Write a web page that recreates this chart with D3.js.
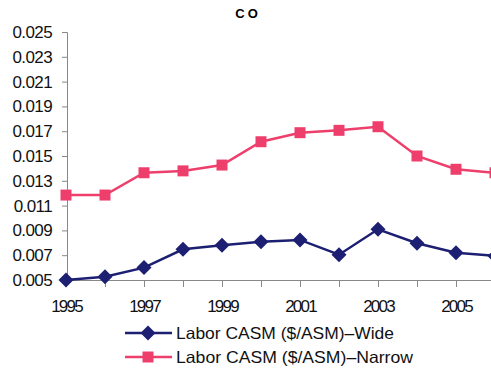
<!DOCTYPE html>
<html><head><meta charset="utf-8">
<script src="https://cdn.jsdelivr.net/npm/d3@7"></script>
<style>body{margin:0;background:#fff}svg{display:block}</style>
</head><body>
<script>
const years = [1995,1996,1997,1998,1999,2000,2001,2002,2003,2004,2005,2006];
const wide = [0.0050,0.00527,0.0060,0.00748,0.0078,0.00809,0.00823,0.00704,0.00909,0.00796,0.0072,0.00694];
const narrow = [0.01185,0.01185,0.01365,0.0138,0.01427,0.01615,0.01688,0.01707,0.01736,0.0150,0.01393,0.01365];
const yTicks = [0.005,0.007,0.009,0.011,0.013,0.015,0.017,0.019,0.021,0.023,0.025];
const xLabelYears = [1995,1997,1999,2001,2003,2005];
const seriesNames = ["Labor CASM ($/ASM)\u2013Wide","Labor CASM ($/ASM)\u2013Narrow"];
const colors = ["#1c1f72","#ee3f6c"];

const W=491,H=373;
const svg=d3.select("body").append("svg").attr("width",W).attr("height",H);
const x=d3.scaleLinear().domain([1995,2006]).range([66,495]);
const y=d3.scaleLinear().domain([0.005,0.025]).range([280,32]);
const font="Liberation Sans, Arial, sans-serif";

svg.append("text").attr("x",248).attr("y",18).attr("text-anchor","middle")
  .attr("font-family",font).attr("font-weight","bold").attr("font-size",13)
  .attr("letter-spacing",3).text("CO");

// y axis
const ya=svg.append("g").attr("transform","translate(67,0)")
  .call(d3.axisLeft(y).tickValues(yTicks).tickSize(5).tickPadding(10)
    .tickFormat(d=>d3.format(".3f")(d)));
ya.select(".domain").attr("stroke","#888");
ya.selectAll(".tick line").attr("stroke","#888");
ya.selectAll("text").attr("font-family",font).attr("font-size",17)
  .attr("letter-spacing",-0.6).attr("fill","#111");

// x axis
const xa=svg.append("g").attr("transform","translate(0,280)")
  .call(d3.axisBottom(x).tickValues(years).tickSize(7).tickSizeOuter(0)
    .tickFormat(d=>xLabelYears.includes(d)?String(d):""));
xa.select(".domain").attr("stroke","#888").attr("d","M67,0.5H491");
xa.selectAll(".tick line").attr("stroke","#888");
xa.selectAll("text").attr("font-family",font).attr("font-size",17)
  .attr("letter-spacing",-1.8).attr("fill","#111").attr("y",32).attr("dy",0);

const line=d3.line().x((d,i)=>x(years[i])).y(d=>y(d));
const data=[wide,narrow];
const diamond="M0,-7.5L7.5,0L0,7.5L-7.5,0Z";
const square="M-5.5,-5.5H5.5V5.5H-5.5Z";

data.forEach((s,k)=>{
  svg.append("path").datum(s).attr("d",line).attr("fill","none")
    .attr("stroke",colors[k]).attr("stroke-width",2.5);
  svg.selectAll(null).data(s).enter().append("path")
    .attr("transform",(d,i)=>`translate(${x(years[i])},${y(d)})`)
    .attr("d",k===0?diamond:square).attr("fill",colors[k]);
});

// legend
const leg=[333,357];
const legLen=[218,237];
seriesNames.forEach((n,k)=>{
  svg.append("line").attr("x1",125).attr("x2",172).attr("y1",leg[k]).attr("y2",leg[k])
    .attr("stroke",colors[k]).attr("stroke-width",2.5);
  svg.append("path").attr("transform",`translate(148,${leg[k]})`)
    .attr("d",k===0?diamond:square).attr("fill",colors[k]);
  svg.append("text").attr("x",176).attr("y",leg[k]+6).attr("font-family",font)
    .attr("font-size",16.5).attr("fill","#111")
    .attr("textLength",legLen[k]).attr("lengthAdjust","spacingAndGlyphs").text(n);
});
</script>
</body></html>
